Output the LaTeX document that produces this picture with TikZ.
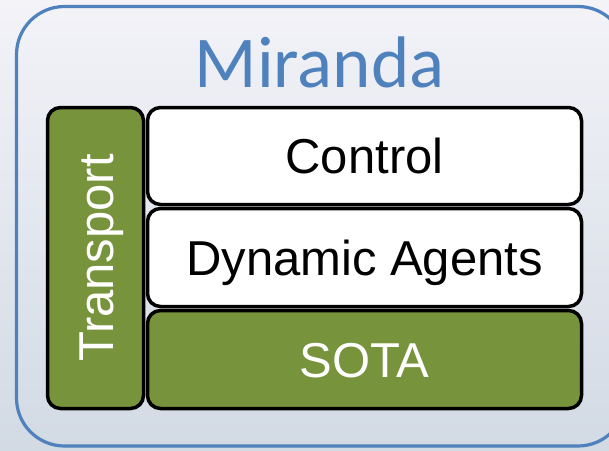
\documentclass[tikz,border=0pt]{standalone}
\usepackage{fontspec}
\setmainfont{Liberation Sans}
\newfontfamily\titlefont{Carlito}
\definecolor{frameblue}{HTML}{4F81BD}
\definecolor{layergreen}{HTML}{77933C}
\definecolor{bgtop}{HTML}{F3F3F8}
\definecolor{bgbottom}{HTML}{D2DAE4}
\begin{document}
\begin{tikzpicture}[x=1pt, y=-1pt,
  layer/.style={draw=black, line width=3.5pt, rounded corners=13pt,
    inner sep=0pt, text height=35pt, text depth=0pt,
    font=\fontsize{49}{58}\selectfont},
  greenlayer/.style={layer, fill=layergreen, text=white},
  whitelayer/.style={layer, fill=white, text=black},
  frame/.style={draw=frameblue, line width=3.2pt, rounded corners=48pt}]
  \useasboundingbox (0,0) rectangle (609,450);
  \clip (0,0) rectangle (609,450);
  % soft backdrop
  \shade[top color=bgtop, bottom color=bgbottom] (0,0) rectangle (609,450);
  % outer frame
  \draw[frame] (16.5,6.5) rectangle (626,446);
  % title
  \node[anchor=base, text=frameblue, inner sep=0pt,
    font=\titlefont\fontsize{73}{85}\selectfont] (title) at (319.5,87) {Miranda};
  % side layer
  \node[greenlayer, rotate=90, minimum width=301pt, minimum height=96pt]
    (transport) at (95.5,258) {Transport};
  % stacked layers
  \node[whitelayer, minimum width=434pt, minimum height=97pt]
    (control) at (364.5,156) {Control};
  \node[whitelayer, minimum width=434pt, minimum height=98pt]
    (agents) at (364.5,257.5) {Dynamic Agents};
  \node[greenlayer, minimum width=434pt, minimum height=98pt]
    (sota) at (364.5,359.5) {SOTA};
\end{tikzpicture}
\end{document}
